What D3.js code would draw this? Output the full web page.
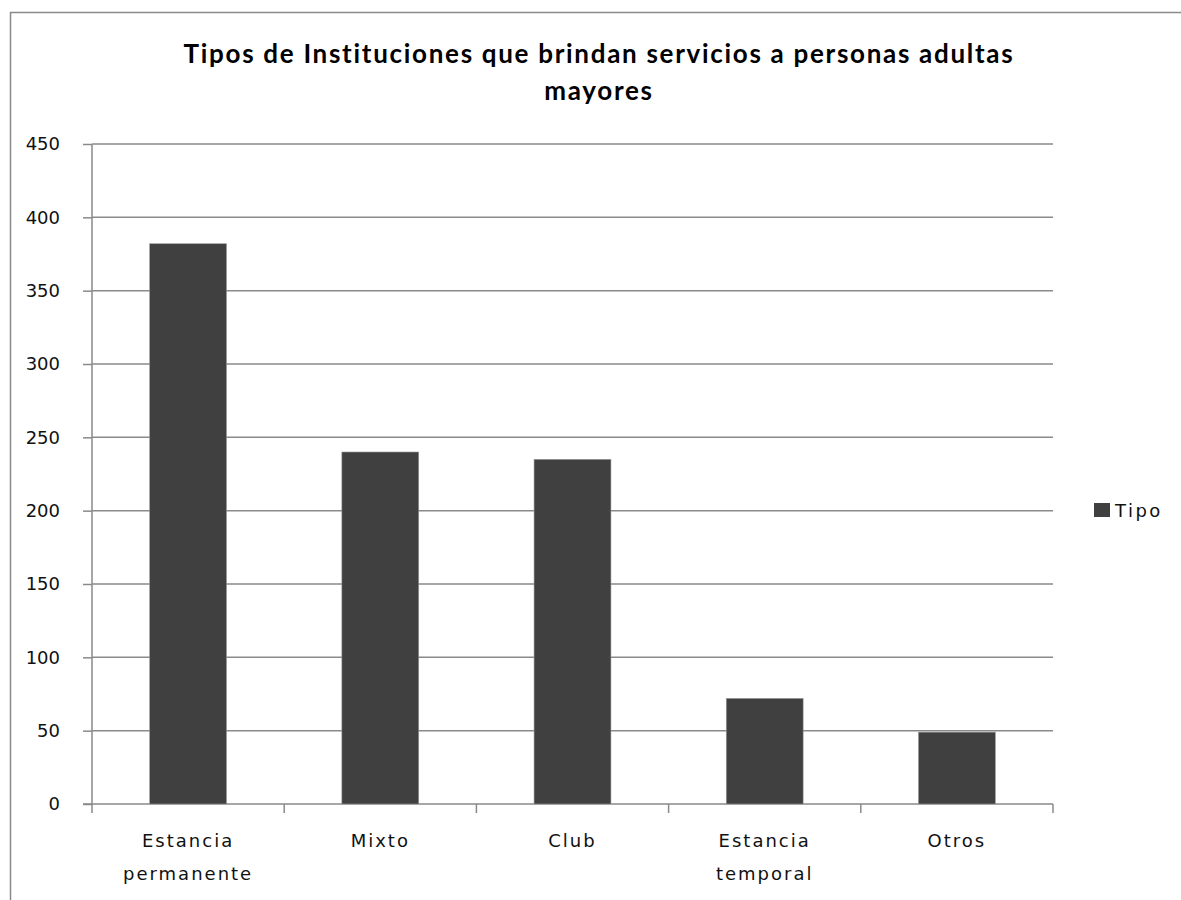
<!DOCTYPE html>
<html>
<head>
<meta charset="utf-8">
<script src="https://cdn.jsdelivr.net/npm/d3@7"></script>
<style>
  body { margin: 0; background: #fff; }
  svg { display: block; }
</style>
</head>
<body>
<div id="chart"></div>
<script>
const width = 1181;
const height = 900;

// data
const categories = [["Estancia", "permanente"], ["Mixto"], ["Club"], ["Estancia", "temporal"], ["Otros"]];
const values = [382, 240, 235, 72, 49];
const yTicks = [0, 50, 100, 150, 200, 250, 300, 350, 400, 450];
const seriesName = "Tipo";
const titleLines = ["Tipos de Instituciones que brindan servicios a personas adultas", "mayores"];

const margin = { left: 92, right: 1053, top: 144, bottom: 804 };
const font = "'DejaVu Sans', Verdana, sans-serif";

const svg = d3.select("#chart").append("svg")
    .attr("width", width)
    .attr("height", height);

// chart frame
svg.append("rect")
    .attr("x", 10.5).attr("y", 12.5)
    .attr("width", width + 20).attr("height", height + 20)
    .attr("fill", "#fff")
    .attr("stroke", "#8a8a8a")
    .attr("stroke-width", 1.5);

const x = d3.scaleBand()
    .domain(d3.range(categories.length))
    .range([margin.left, margin.right])
    .paddingInner(0.6)
    .paddingOuter(0.3);

const y = d3.scaleLinear()
    .domain([0, 450])
    .range([margin.bottom, margin.top]);

// gridlines
svg.append("g")
    .selectAll("line")
    .data(yTicks.filter(d => d > 0))
    .join("line")
    .attr("x1", margin.left).attr("x2", margin.right)
    .attr("y1", d => y(d)).attr("y2", d => y(d))
    .attr("stroke", "#8a8a8a")
    .attr("stroke-width", 1.5);

// y axis
const yAxis = svg.append("g")
    .attr("transform", `translate(${margin.left},0)`)
    .call(d3.axisLeft(y).tickValues(yTicks).tickSize(9).tickPadding(23));
yAxis.selectAll("line, path").attr("stroke", "#8a8a8a").attr("stroke-width", 1.5);
yAxis.select(".domain").attr("d", `M0,${margin.bottom + 0.5}V${margin.top}`);
yAxis.selectAll("text")
    .attr("font-family", font)
    .attr("font-size", 18)
    .attr("fill", "#111");

// x axis: ticks at the band boundaries
const bounds = d3.range(categories.length + 1).map(i => margin.left + i * (margin.right - margin.left) / categories.length);
const xAxis = svg.append("g");
xAxis.append("line")
    .attr("x1", margin.left - 9).attr("x2", margin.right)
    .attr("y1", margin.bottom).attr("y2", margin.bottom)
    .attr("stroke", "#8a8a8a").attr("stroke-width", 1.5);
xAxis.selectAll(".tk")
    .data(bounds)
    .join("line")
    .attr("class", "tk")
    .attr("x1", d => d).attr("x2", d => d)
    .attr("y1", margin.bottom).attr("y2", margin.bottom + 9)
    .attr("stroke", "#8a8a8a").attr("stroke-width", 1.5);

// category labels
svg.append("g")
    .selectAll("text")
    .data(categories)
    .join("text")
    .attr("x", (d, i) => x(i) + x.bandwidth() / 2)
    .attr("y", 847)
    .attr("text-anchor", "middle")
    .attr("font-family", font)
    .attr("font-size", 18)
    .attr("letter-spacing", 2)
    .attr("fill", "#111")
    .selectAll("tspan")
    .data(d => d)
    .join("tspan")
    .attr("x", function () { return this.parentNode.getAttribute("x"); })
    .attr("dy", (d, i) => i === 0 ? 0 : 33)
    .text(d => d);

// bars
svg.append("g")
    .selectAll("rect")
    .data(values)
    .join("rect")
    .attr("x", (d, i) => x(i))
    .attr("y", d => y(d))
    .attr("width", x.bandwidth())
    .attr("height", d => y(0) - y(d))
    .attr("fill", "#404040")
    .attr("stroke", "#9a9a9a")
    .attr("stroke-width", 0.6);

// title
svg.append("g")
    .selectAll("text")
    .data(titleLines)
    .join("text")
    .attr("x", 599)
    .attr("y", (d, i) => 63 + i * 37)
    .attr("text-anchor", "middle")
    .attr("font-family", "Lato, 'Open Sans', sans-serif")
    .attr("font-weight", "bold")
    .attr("font-size", 26)
    .attr("letter-spacing", 1.7)
    .attr("fill", "#000")
    .text(d => d);

// legend
const legend = svg.append("g").attr("transform", "translate(1094,503)");
legend.append("rect")
    .attr("width", 16).attr("height", 14)
    .attr("fill", "#404040");
legend.append("text")
    .attr("x", 21).attr("y", 14)
    .attr("font-family", font)
    .attr("font-size", 18)
    .attr("letter-spacing", 2.5)
    .attr("fill", "#111")
    .text(seriesName);
</script>
</body>
</html>
